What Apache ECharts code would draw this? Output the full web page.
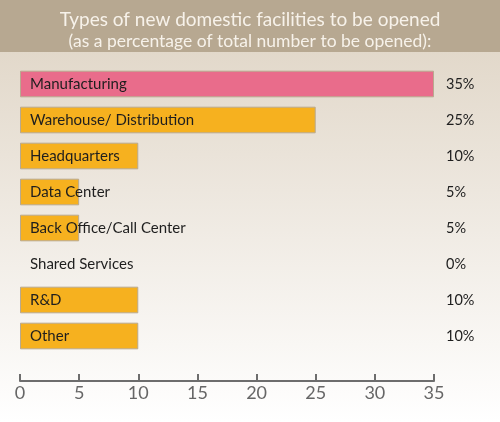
<!DOCTYPE html>
<html>
<head>
<meta charset="utf-8">
<script src="https://cdn.jsdelivr.net/npm/echarts@6/dist/echarts.min.js"></script>
<style>
html, body { margin: 0; padding: 0; }
#main { width: 500px; height: 422px; }
</style>
</head>
<body>
<div id="main"></div>
<script>
const categories = ['Manufacturing', 'Warehouse/ Distribution', 'Headquarters', 'Data Center', 'Back Office/Call Center', 'Shared Services', 'R&D', 'Other'];
const shares = [35, 25, 10, 5, 5, 0, 10, 10];
const barColors = ['#e96c8b', '#f6b11f', '#f6b11f', '#f6b11f', '#f6b11f', '#f6b11f', '#f6b11f', '#f6b11f'];
const xTicks = [0, 5, 10, 15, 20, 25, 30, 35];

const fontFamily = 'Lato, "Noto Sans", sans-serif';

let chart = echarts.init(document.getElementById('main'));
let option = {
	backgroundColor: {
		type: 'linear', x: 0, y: 0, x2: 0, y2: 1,
		colorStops: [
			{ offset: 0, color: '#ded3c3' },
			{ offset: 1, color: '#ffffff' }
		]
	},
	textStyle: { fontFamily: fontFamily },
	graphic: [{
		type: 'rect',
		left: 0, top: 0,
		shape: { width: 500, height: 52 },
		style: { fill: '#b7a891' },
		z: -1
	}],
	title: {
		text: 'Types of new domestic facilities to be opened',
		subtext: '(as a percentage of total number to be opened):',
		left: 'center',
		top: 5,
		itemGap: 3,
		textStyle: { color: '#f7f2ea', fontSize: 19, fontWeight: 'normal', fontFamily: fontFamily },
		subtextStyle: { color: '#f7f2ea', fontSize: 17.5, fontFamily: fontFamily }
	},
	grid: { left: 20, right: 66, top: 66, bottom: 68 },
	xAxis: {
		type: 'value',
		min: xTicks[0],
		max: xTicks[xTicks.length - 1],
		interval: 5,
		offset: 27,
		splitLine: { show: false },
		axisLine: { show: true, lineStyle: { color: '#6d6d6d', width: 2 } },
		axisTick: { show: true, inside: true, length: 7, lineStyle: { color: '#6d6d6d', width: 2 } },
		axisLabel: { color: '#666', fontSize: 18, margin: 3, fontFamily: fontFamily }
	},
	yAxis: [{
		type: 'category',
		inverse: true,
		data: categories,
		z: 10,
		axisLine: { show: false },
		axisTick: { show: false },
		axisLabel: { inside: true, margin: 10, color: '#1e1e1e', fontSize: 15, fontFamily: fontFamily }
	}, {
		type: 'category',
		inverse: true,
		position: 'right',
		data: shares.map(v => v + '%'),
		axisLine: { show: false },
		axisTick: { show: false },
		axisLabel: { margin: 12, color: '#1e1e1e', fontSize: 14.5, fontFamily: fontFamily }
	}],
	series: [{
		type: 'bar',
		barCategoryGap: '26%',
		data: shares.map((v, i) => ({
			value: v,
			itemStyle: { color: barColors[i], borderColor: '#b9a98f', borderWidth: v > 0 ? 1 : 0 }
		})),
		silent: true
	}]
};
chart.setOption(option);
</script>
</body>
</html>
